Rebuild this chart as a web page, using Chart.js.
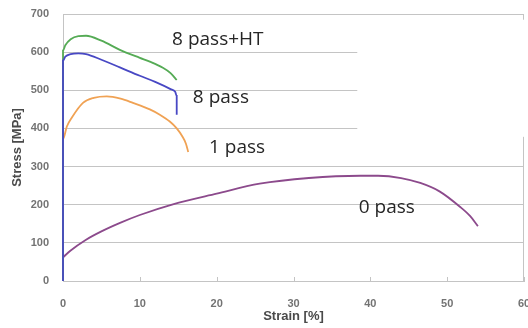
<!DOCTYPE html>
<html>
<head>
<meta charset="utf-8">
<script src="https://cdn.jsdelivr.net/npm/chart.js@4/dist/chart.umd.min.js"></script>
<style>
  html, body { margin: 0; padding: 0; background: #fff; }
  #wrap { width: 528px; height: 328px; }
</style>
</head>
<body>
<div id="wrap"><canvas id="ssChart"></canvas></div>
<script>
// stress-strain curves, strain in %, stress in MPa
const strain0 = [0, 1, 2.9, 5, 7.5, 10, 14.3, 20, 25.6, 32, 38.7, 41, 44, 46.5, 49, 51.7, 53, 54];
const stress0 = [62, 80, 107, 130, 153, 173, 201, 229, 255, 270, 276, 276, 270, 257, 235, 194, 170, 144];

const strain1 = [0, 0, 0.5, 1.2, 2.6, 4, 5.7, 7.5, 9.1, 11.3, 12.6, 13.9, 14.8, 15.5, 16, 16.3];
const stress1 = [0, 372, 405, 430, 467, 480, 484, 478, 467, 450, 436, 418, 400, 380, 360, 338];

const strain8HT = [0, 0, 0.3, 1, 2, 3, 5, 7.4, 10, 11.3, 13, 14, 14.8];
const stress8HT = [0, 604, 618, 634, 642, 643, 630, 606, 585, 575, 559, 545, 527];

const strain8 = [0, 0, 0.3, 1, 2, 3, 5, 7.4, 10, 12, 14, 14.6, 14.8, 14.8];
const stress8 = [0, 578, 588, 595, 597, 595, 580, 560, 538, 522, 503, 496, 485, 436];

const yTicks = [0, 100, 200, 300, 400, 500, 600, 700];
const xTicks = [0, 10, 20, 30, 40, 50, 60];

// curve names, anchored at the left end of their baseline
const curveLabels = [
  { text: "8 pass+HT", x: 14.2, y: 619 },
  { text: "8 pass", x: 16.9, y: 467 },
  { text: "1 pass", x: 19.0, y: 336 },
  { text: "0 pass", x: 38.5, y: 178 },
];

const pts = (xs, ys) => xs.map((x, i) => ({ x: x, y: ys[i] }));

const line = (label, xs, ys, color) => ({
  label: label,
  data: pts(xs, ys),
  borderColor: color,
  borderWidth: 1.8,
  pointRadius: 0,
  fill: false,
  cubicInterpolationMode: "monotone",
  clip: 3,
});

// frame pieces: right edge, inward x ticks, blank box behind the upper labels
const framePlugin = {
  id: "frame",
  beforeDatasetsDraw(chart) {
    const { ctx, chartArea: a, scales } = chart;
    ctx.save();
    ctx.strokeStyle = "#c4c4c4";
    ctx.lineWidth = 1;
    ctx.beginPath();
    ctx.moveTo(a.right - 0.5, a.top);
    ctx.lineTo(a.right - 0.5, a.bottom);
    xTicks.forEach((t) => {
      const px = Math.round(scales.x.getPixelForValue(t)) + 0.5;
      ctx.moveTo(px, a.bottom);
      ctx.lineTo(px, a.bottom - 4);
    });
    ctx.stroke();
    ctx.fillStyle = "#fff";
    const bx = scales.x.getPixelForValue(38.3);
    const by = scales.y.getPixelForValue(685);
    ctx.fillRect(bx, by, 528 - bx, scales.y.getPixelForValue(378) - by);
    ctx.restore();
  },
  afterDatasetsDraw(chart) {
    const { ctx, scales } = chart;
    ctx.save();
    ctx.font = "19px 'Open Sans'";
    ctx.fillStyle = "#262626";
    ctx.textAlign = "left";
    ctx.textBaseline = "alphabetic";
    curveLabels.forEach((l) => {
      ctx.fillText(l.text, scales.x.getPixelForValue(l.x), scales.y.getPixelForValue(l.y));
    });
    ctx.restore();
  },
};

const tickFont = { family: "'Liberation Sans'", size: 11, weight: "bold" };
const titleFont = { family: "'Liberation Sans'", size: 13, weight: "bold" };

// first dataset is painted on top, so 8 pass goes first
new Chart(document.getElementById("ssChart"), {
  type: "line",
  data: {
    datasets: [
      line("8 pass", strain8, stress8, "#4848c4"),
      line("8 pass+HT", strain8HT, stress8HT, "#55ab55"),
      line("1 pass", strain1, stress1, "#f0a254"),
      line("0 pass", strain0, stress0, "#8c4a8c"),
    ],
  },
  options: {
    responsive: true,
    maintainAspectRatio: false,
    animation: false,
    layout: { padding: { top: 14, right: 4, left: 0, bottom: 0 } },
    plugins: { legend: { display: false }, tooltip: { enabled: false } },
    scales: {
      x: {
        type: "linear",
        min: 0,
        max: 60,
        afterBuildTicks: (s) => { s.ticks = xTicks.map((v) => ({ value: v })); },
        afterFit: (s) => { s.height = 47; s.paddingRight = 0; s.paddingLeft = 0; },
        grid: { display: false },
        border: { color: "#c4c4c4" },
        ticks: { color: "#737373", font: tickFont, padding: 8, maxRotation: 0 },
        title: {
          display: true,
          text: "Strain [%]",
          color: "#4a4a4a",
          font: titleFont,
          padding: { top: 2 },
        },
      },
      y: {
        min: 0,
        max: 700,
        afterBuildTicks: (s) => { s.ticks = yTicks.map((v) => ({ value: v })); },
        afterFit: (s) => { s.width = 63; s.paddingTop = 0; s.paddingBottom = 0; },
        grid: { color: "#c4c4c4", drawTicks: false },
        border: { color: "#c4c4c4" },
        ticks: { color: "#737373", font: tickFont, padding: 14 },
        title: {
          display: true,
          text: "Stress [MPa]",
          color: "#4a4a4a",
          font: titleFont,
          padding: { top: 10, bottom: 2 },
        },
      },
    },
  },
  plugins: [framePlugin],
});
</script>
</body>
</html>
